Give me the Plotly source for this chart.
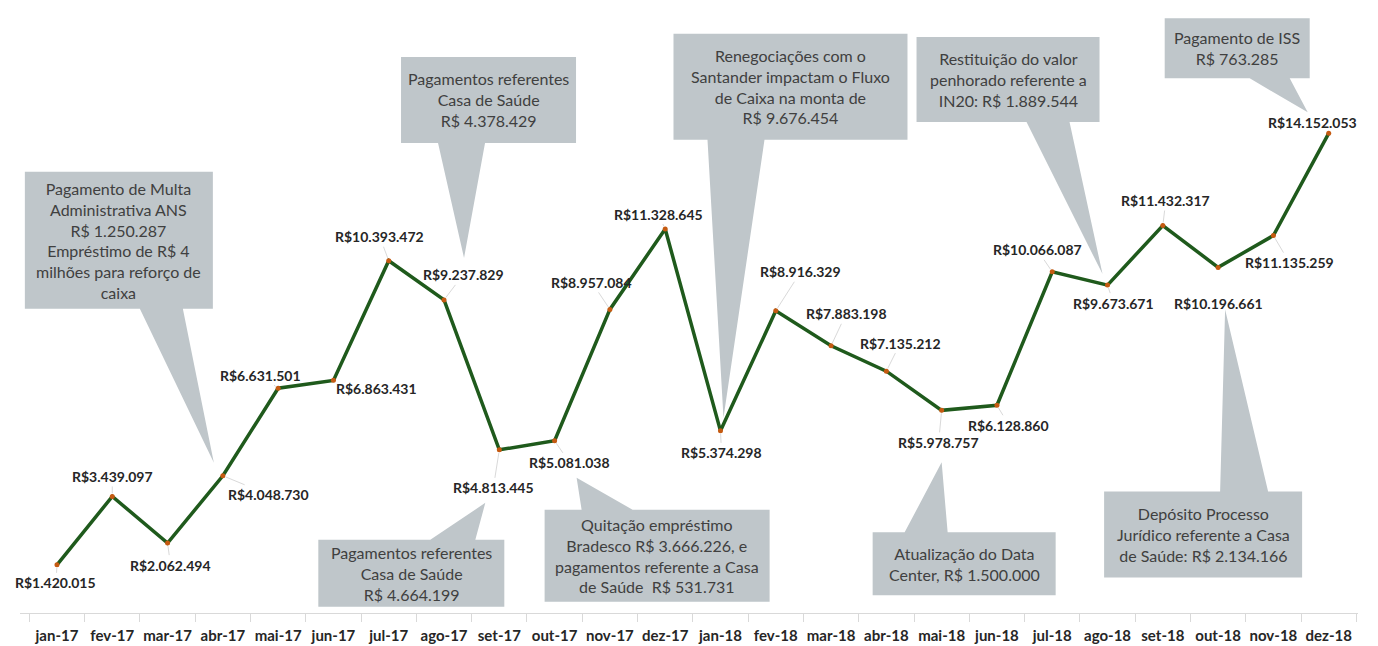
import plotly.graph_objects as go

# ---------------- data ----------------
months = ["jan-17", "fev-17", "mar-17", "abr-17", "mai-17", "jun-17",
          "jul-17", "ago-17", "set-17", "out-17", "nov-17", "dez-17",
          "jan-18", "fev-18", "mar-18", "abr-18", "mai-18", "jun-18",
          "jul-18", "ago-18", "set-18", "out-18", "nov-18", "dez-18"]

saldo = [1420015, 3439097, 2062494, 4048730, 6631501, 6863431,
         10393472, 9237829, 4813445, 5081038, 8957084, 11328645,
         5374298, 8916329, 7883198, 7135212, 5978757, 6128860,
         10066087, 9673671, 11432317, 10196661, 11135259, 14152053]

callout_months = ["abr-17", "ago-17", "jan-18", "ago-18", "dez-18",
                  "set-17", "out-17", "mai-18", "out-18"]
callout_texts = [
    "Pagamento de Multa<br>Administrativa ANS<br>R$ 1.250.287<br>Empréstimo de R$ 4<br>milhões para reforço de<br>caixa",
    "Pagamentos referentes<br>Casa de Saúde<br>R$ 4.378.429",
    "Renegociações com o<br>Santander impactam o Fluxo<br>de Caixa na monta de<br>R$ 9.676.454",
    "Restituição do valor<br>penhorado referente a<br>IN20: R$ 1.889.544",
    "Pagamento de ISS<br>R$ 763.285",
    "Pagamentos referentes<br>Casa de Saúde<br>R$ 4.664.199",
    "Quitação empréstimo<br>Bradesco R$ 3.666.226, e<br>pagamentos referente a Casa<br>de Saúde  R$ 531.731",
    "Atualização do Data<br>Center, R$ 1.500.000",
    "Depósito Processo<br>Jurídico referente a Casa<br>de Saúde: R$ 2.134.166",
]

# ---------------- styling / placement (pixels) ----------------
# data-label offsets from the point (dx right, dy down)
label_dx = [-1, 0, 3, 46, -18, 43, -9, 19, -6, 15, -18, -7,
            1, 25, 15, 14, -3, 12, -15, 6, 3, 0, 16, -16]
label_dy = [18, -20, 22, 19, -13, 8, -24, -25, 38, 22, -27, -15,
            22, -39, -32, -28, 32, 20, -22, 18, -25, 36, 27, -11]

# callout geometry relative to the anchored point: box L,T,R,B ; wedge base b1,b2 ; tip tx,ty ; side
callout_geom = [
    (-198, -304, -10, -167, -83, -40, -9, -13, "bottom"),
    (-43, -243, 132, -157, -6, 41, 20, -42, "bottom"),
    (-47, -397, 187, -291, -13, 44, 3, -13, "bottom"),
    (-191, -248, -8, -163, -81, -38, -5, -11, "bottom"),
    (-164, -115, -19, -55, -79, -39, -21, -21, "bottom"),
    (-181, 90, 5, 157, -69, -24, -14, 53, "top"),
    (-10, 69, 215, 161, 27, 78, 22, 37, "top"),
    (-69, 122, 114, 185, -37, 6, 0, 52, "top"),
    (-114, 224, 84, 310, 2, 50, 7, 42, "top"),
]

LINE_COLOR = "#1f5a1c"
MARKER_COLOR = "#c55a11"
BOX_COLOR = "#bfc6ca"
FONT = "Lato"


def fmt(v):
    return "R$" + f"{v:,}".replace(",", ".")


def callout_path(L, T, R, B, b1, b2, tx, ty, side):
    if side == "bottom":
        pts = [(L, T), (R, T), (R, B), (b2, B), (tx, ty), (b1, B), (L, B)]
    else:
        pts = [(L, T), (b1, T), (tx, ty), (b2, T), (R, T), (R, B), (L, B)]
    return "M " + " L ".join(f"{x},{-y}" for x, y in pts) + " Z"


fig = go.Figure()
fig.add_trace(go.Scatter(
    x=months, y=saldo, mode="lines+markers",
    line=dict(color=LINE_COLOR, width=3.5),
    marker=dict(color=MARKER_COLOR, size=5),
    hoverinfo="skip", showlegend=False,
))

annotations = []
for i, v in enumerate(saldo):
    annotations.append(dict(
        x=i, y=v, xref="x", yref="y", text=fmt(v),
        showarrow=True, arrowhead=0, arrowwidth=1, arrowcolor="#d9d9d9",
        ax=label_dx[i], ay=label_dy[i], standoff=3,
        font=dict(family=FONT, size=14, color="#262626", weight="bold"),
    ))

shapes = []
for m, txt, g in zip(callout_months, callout_texts, callout_geom):
    i = months.index(m)
    v = saldo[i]
    L, T, R, B, b1, b2, tx, ty, side = g
    shapes.append(dict(
        type="path", xref="x", yref="y", xsizemode="pixel", ysizemode="pixel",
        xanchor=i, yanchor=v, path=callout_path(*g),
        fillcolor=BOX_COLOR, line=dict(width=0), layer="below",
    ))
    annotations.append(dict(
        x=i, y=v, xref="x", yref="y", text=txt, showarrow=False,
        xshift=(L + R) / 2, yshift=-(T + B) / 2, align="center",
        font=dict(family=FONT, size=16, color="#404040"),
    ))

fig.update_layout(
    width=1378, height=646,
    margin=dict(l=20, r=20, t=10, b=33, autoexpand=False),
    paper_bgcolor="white", plot_bgcolor="white",
    annotations=annotations, shapes=shapes,
    hovermode=False,
    xaxis=dict(
        type="category", range=[-0.669, 23.53], automargin=False,
        showline=True, linecolor="#d9d9d9", linewidth=1,
        ticks="outside", tickson="boundaries", ticklen=8, tickcolor="#d9d9d9",
        tickangle=0, showgrid=False, zeroline=False, ticklabelstandoff=9,
        tickfont=dict(family=FONT, size=15, color="#262626", weight="bold"),
    ),
    yaxis=dict(visible=False, range=[0, 17.79e6], automargin=False),
)

fig.write_html("out.html", config={"displayModeBar": False},
               post_script="document.body.style.margin='0';")
